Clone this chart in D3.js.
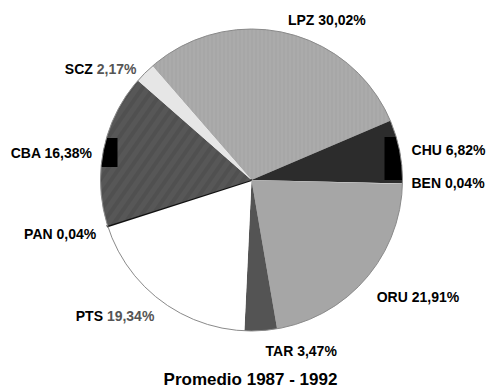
<!DOCTYPE html>
<html>
<head>
<meta charset="utf-8">
<script src="https://cdn.jsdelivr.net/npm/d3@7"></script>
<style>
  html, body { margin: 0; padding: 0; background: #fff; }
  svg { display: block; }
  text { font-family: "Liberation Sans", Arial, Helvetica, sans-serif; font-weight: bold; }
</style>
</head>
<body>
<svg id="chart" width="487" height="388"></svg>
<script>
// ---- Data ----
const categories = ["LPZ", "CHU", "BEN", "ORU", "TAR", "PTS", "PAN", "CBA", "SCZ"];
const shares     = [30.02, 6.82, 0.04, 21.91, 3.47, 19.34, 0.04, 16.38, 2.17];
const valueLabels = ["30,02%", "6,82%", "0,04%", "21,91%", "3,47%", "19,34%", "0,04%", "16,38%", "2,17%"];
const title = "Promedio 1987 - 1992";

// ---- Styles / layout ----
const fills = {
  LPZ: "url(#vstripe)", CHU: "#2c2c2c", BEN: "#d8d8d8", ORU: "#a6a6a6",
  TAR: "#545454", PTS: "#ffffff", PAN: "#111111", CBA: "url(#dstripe)", SCZ: "#e6e6e6"
};
const greyValue = new Set(["SCZ", "PTS"]);
// vertical nudges of labels (pixels, applied to text baseline)
const labelDy = { LPZ: 4, CHU: 6, BEN: 4, ORU: 15, TAR: 13, PTS: 12, PAN: 9, CBA: 11, SCZ: 9 };
const labelDx = { ORU: 2, TAR: 4, PTS: 2, BEN: -3 };

const W = 487, H = 388;
const cx = 251.5, cy = 180, R = 151;
const startDeg = -41;

const svg = d3.select("#chart");
const defs = svg.append("defs");

// subtle textures
const vp = defs.append("pattern").attr("id", "vstripe").attr("patternUnits", "userSpaceOnUse")
  .attr("width", 4).attr("height", 10);
vp.append("rect").attr("width", 4).attr("height", 10).attr("fill", "#ababab");
vp.append("rect").attr("x", 0).attr("width", 1).attr("height", 10).attr("fill", "#a2a2a2");

const dp = defs.append("pattern").attr("id", "dstripe").attr("patternUnits", "userSpaceOnUse")
  .attr("width", 9).attr("height", 9).attr("patternTransform", "rotate(35)");
dp.append("rect").attr("width", 9).attr("height", 9).attr("fill", "#575757");
dp.append("rect").attr("width", 4).attr("height", 9).attr("fill", "#505050");

const data = categories.map((c, i) => ({ name: c, value: shares[i], label: valueLabels[i] }));

const pie = d3.pie().sort(null).value(d => d.value)
  .startAngle(startDeg * Math.PI / 180)
  .endAngle(startDeg * Math.PI / 180 + 2 * Math.PI);
const arcs = pie(data);

const arc = d3.arc().innerRadius(0).outerRadius(R);

const g = svg.append("g").attr("transform", `translate(${cx},${cy})`);

defs.append("clipPath").attr("id", "circ").append("circle").attr("r", R).attr("cx", 0).attr("cy", 0);

g.selectAll("path.slice").data(arcs).join("path")
  .attr("class", "slice")
  .attr("d", arc)
  .attr("fill", d => fills[d.data.name])
  .attr("stroke", d => d.data.name === "PAN" ? "#111" : "none")
  .attr("stroke-width", d => d.data.name === "PAN" ? 2 : 0);

// dark edge tabs seen on the print (CHU and CBA outer rims)
const rimTabs = [
  { name: "CHU", side: 1, depth: 18, from: -43, to: 0 },
  { name: "CBA", side: -1, depth: 15, from: -42, to: -13 }
];
const tabsG = g.append("g").attr("clip-path", "url(#circ)");
rimTabs.forEach(t => {
  const x0 = t.side > 0 ? R - t.depth : -R;
  tabsG.append("rect").attr("x", x0).attr("y", t.from)
    .attr("width", t.depth + 2).attr("height", t.to - t.from).attr("fill", "#000");
});

// outline
g.append("circle").attr("r", R).attr("fill", "none").attr("stroke", "#8a8a8a").attr("stroke-width", 1);

// labels
const labelR = R + 12;
const lab = svg.append("g");
arcs.forEach(a => {
  const n = a.data.name;
  const mid = (a.startAngle + a.endAngle) / 2;
  const x = cx + labelR * Math.sin(mid) + (labelDx[n] || 0);
  const y = cy - labelR * Math.cos(mid) + (labelDy[n] || 0);
  const right = Math.sin(mid) >= 0.05;
  const t = lab.append("text")
    .attr("x", x).attr("y", y)
    .attr("text-anchor", right ? "start" : "end")
    .attr("font-size", 14);
  t.append("tspan").attr("fill", "#000").text(n + " ");
  t.append("tspan").attr("fill", greyValue.has(n) ? "#555" : "#000").text(a.data.label);
});

svg.append("text")
  .attr("x", 250.5).attr("y", 385)
  .attr("text-anchor", "middle")
  .attr("font-size", 17)
  .attr("fill", "#000")
  .text(title);
</script>
</body>
</html>
